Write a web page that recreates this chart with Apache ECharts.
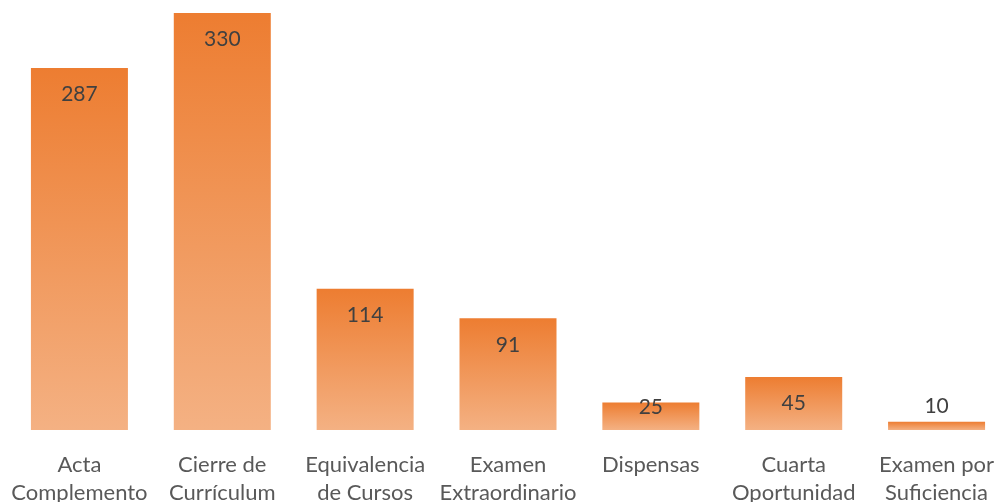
<!DOCTYPE html>
<html><head><meta charset="utf-8">
<script src="https://cdn.jsdelivr.net/npm/echarts@6/dist/echarts.min.js"></script>
<style>html,body{margin:0;padding:0;background:#fff}#c{width:997px;height:502px}</style>
</head><body><div id="c"></div>
<script>
const categories = ["Acta\nComplemento","Cierre de\nCurrículum","Equivalencia\nde Cursos","Examen\nExtraordinario","Dispensas","Cuarta\nOportunidad","Examen por\nSuficiencia"];
const values = [287, 330, 114, 91, 25, 45, 10];

const FONT = 'Lato';
const labelOffsets = {25: [0, -22], 10: [0, -42]};
const chart = echarts.init(document.getElementById('c'), null, {renderer:'canvas'});
chart.setOption({
  animation: false,
  grid: {left: 8, top: 13, width: 1000, bottom: 72, containLabel: false, outerBoundsMode: 'none'},
  xAxis: {
    type: 'category', data: categories,
    axisLine: {show: false}, axisTick: {show: false},
    axisLabel: {color: '#595959', fontFamily: FONT, fontSize: 22, lineHeight: 28, margin: 21, interval: 0}
  },
  yAxis: {type: 'value', min: 3.5, max: 330, show: false, splitLine: {show: false}},
  series: [{
    type: 'bar', barWidth: 97,
    data: values.map(v => ({
      value: v,
      label: labelOffsets[v] ? {offset: labelOffsets[v]} : undefined
    })),
    itemStyle: {
      color: new echarts.graphic.LinearGradient(0, 0, 0, 1, [
        {offset: 0, color: '#ED7D31'},
        {offset: 1, color: '#F4B183'}
      ])
    },
    label: {
      show: true, position: 'insideTop', distance: 16,
      color: '#404040', fontFamily: FONT, fontSize: 21
    }
  }]
});
</script></body></html>
